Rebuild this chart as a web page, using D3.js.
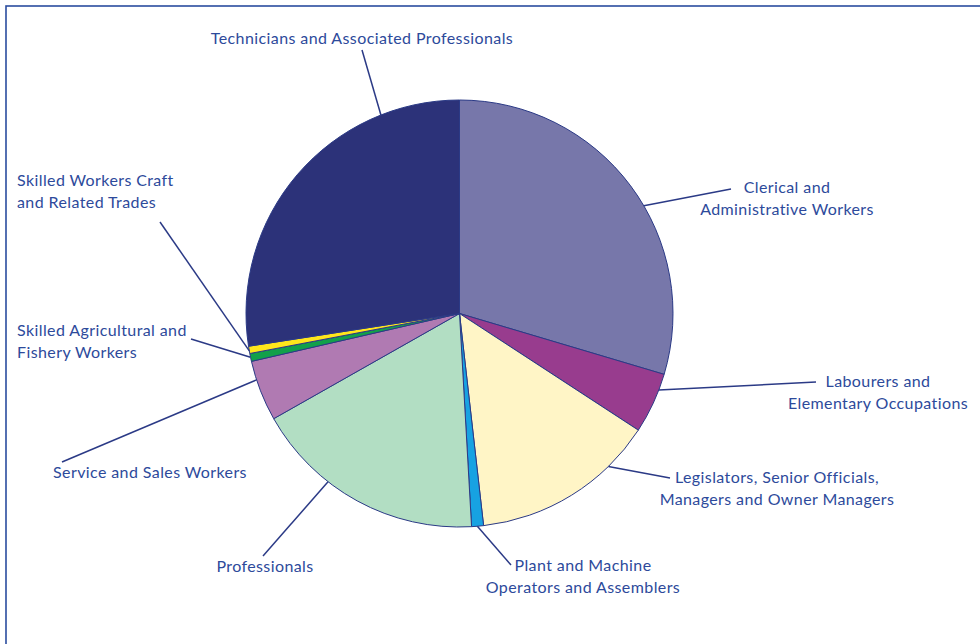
<!DOCTYPE html>
<html>
<head>
<meta charset="utf-8">
<script src="https://cdn.jsdelivr.net/npm/d3@7"></script>
<style>
  html, body { margin: 0; padding: 0; background: #fff; }
  #chart { width: 980px; height: 644px; overflow: hidden; }
</style>
</head>
<body>
<div id="chart"></div>
<script>
// --- Data (percent share, clockwise from 12 o'clock) ---
const categories = [
  "Clerical and Administrative Workers",
  "Labourers and Elementary Occupations",
  "Legislators, Senior Officials, Managers and Owner Managers",
  "Plant and Machine Operators and Assemblers",
  "Professionals",
  "Service and Sales Workers",
  "Skilled Agricultural and Fishery Workers",
  "Skilled Workers Craft and Related Trades",
  "Technicians and Associated Professionals"
];
const values = [29.6, 4.6, 14.0, 0.9, 17.7, 4.6, 0.6, 0.55, 27.45];
const colors = ["#7777aa", "#983c8e", "#fff5c6", "#17a2e2", "#b2dec3",
                "#b07ab2", "#12a04a", "#ffe61c", "#2c3279"];

// label lines as printed
const labelLines = [
  ["Clerical and", "Administrative Workers"],
  ["Labourers and", "Elementary Occupations"],
  ["Legislators, Senior Officials,", "Managers and Owner Managers"],
  ["Plant and Machine", "Operators and Assemblers"],
  ["Professionals"],
  ["Service and Sales Workers"],
  ["Skilled Agricultural and", "Fishery Workers"],
  ["Skilled Workers Craft", "and Related Trades"],
  ["Technicians and Associated Professionals"]
];

// --- Layout for labels: leader anchor angle on rim (deg), leader end, text pos ---
const labelLayout = [
  { a: 59.7,  end: [731, 189], x: 787, y: 193, anchor: "middle" },
  { a: 111,   end: [816, 382], x: 878, y: 387, anchor: "middle" },
  { a: 135.8, end: [670, 478], x: 777, y: 483, anchor: "middle" },
  { a: 175.2, end: [511, 565], x: 583, y: 571, anchor: "middle" },
  { a: 218,   end: [263, 556], x: 265, y: 572, anchor: "middle" },
  { a: 251.9, end: [62, 462],  x: 150, y: 478, anchor: "middle" },
  { a: 258.2, end: [191, 339], x: 17,  y: 336, anchor: "start" },
  { a: 259.9, end: [160, 222], x: 17,  y: 186, anchor: "start" },
  { a: 338.4, end: [362, 50],  x: 362, y: 44,  anchor: "middle" }
];

function drawChart() {
  const width = 980, height = 644;
  const cx = 459.5, cy = 313.5, radius = 213.5;
  const ink = "#2b3a86";
  const textColor = "#2d4a9b";

  const svg = d3.select("#chart").append("svg")
    .attr("width", width)
    .attr("height", height);

  // frame (runs off the right and bottom edges)
  svg.append("rect")
    .attr("x", 6).attr("y", 6)
    .attr("width", 1000).attr("height", 700)
    .attr("fill", "none")
    .attr("stroke", "#2b4d9f")
    .attr("stroke-width", 1.6);

  const pie = d3.pie().sort(null).value(d => d);
  const arcs = pie(values);
  const arc = d3.arc().innerRadius(0).outerRadius(radius);

  const g = svg.append("g").attr("transform", `translate(${cx},${cy})`);

  g.selectAll("path.slice")
    .data(arcs)
    .enter().append("path")
    .attr("class", "slice")
    .attr("d", arc)
    .attr("fill", (d, i) => colors[i])
    .attr("stroke", ink)
    .attr("stroke-width", 1)
    .attr("stroke-linejoin", "round");

  // --- Leader lines ---
  const rim = a => {
    const r = a * Math.PI / 180;
    return [cx + radius * Math.sin(r), cy - radius * Math.cos(r)];
  };

  svg.selectAll("line.leader")
    .data(labelLayout)
    .enter().append("line")
    .attr("class", "leader")
    .attr("x1", d => rim(d.a)[0])
    .attr("y1", d => rim(d.a)[1])
    .attr("x2", d => d.end[0])
    .attr("y2", d => d.end[1])
    .attr("stroke", ink)
    .attr("stroke-width", 1.5);

  // --- Labels ---
  const labels = svg.selectAll("text.label")
    .data(labelLayout)
    .enter().append("text")
    .attr("class", "label")
    .attr("x", d => d.x)
    .attr("y", d => d.y)
    .attr("text-anchor", d => d.anchor)
    .attr("fill", textColor)
    .style("font-family", "Lato, 'Noto Sans', sans-serif")
    .style("font-size", "16px")
    .style("letter-spacing", "0.4px");

  labels.each(function(d, i) {
    const t = d3.select(this);
    labelLines[i].forEach((line, j) => {
      t.append("tspan")
        .attr("x", d.x)
        .attr("dy", j === 0 ? 0 : 21.5)
        .text(line);
    });
  });
}

drawChart();
</script>
</body>
</html>
